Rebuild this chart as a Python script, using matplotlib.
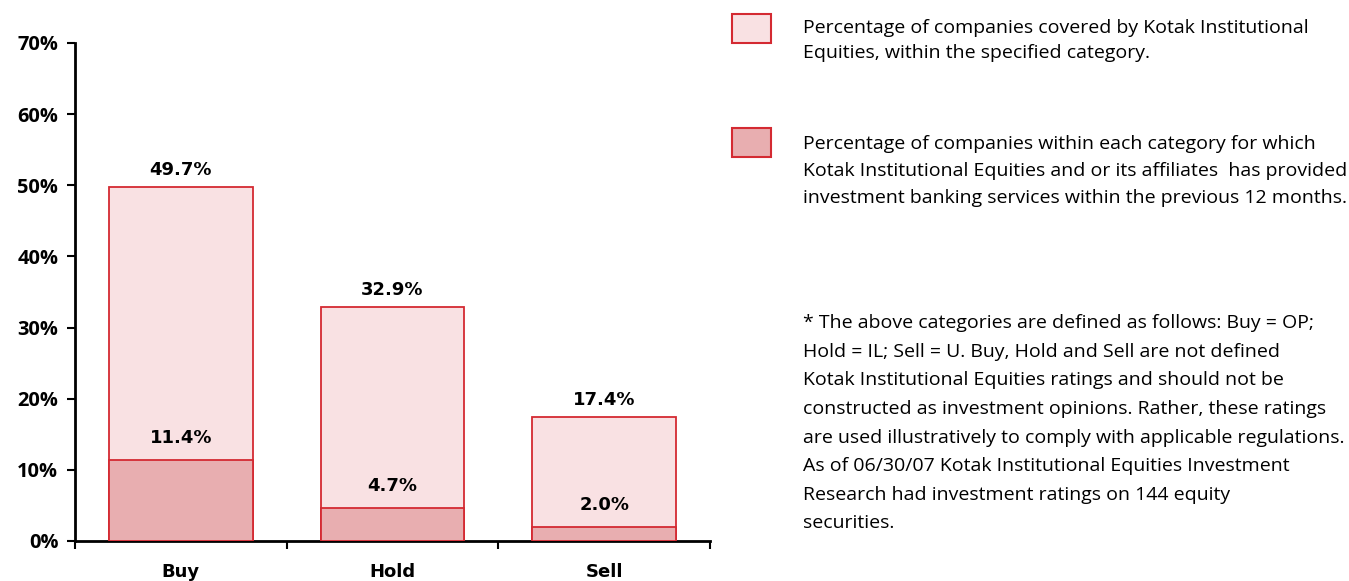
import matplotlib
matplotlib.use("Agg")
import matplotlib.pyplot as plt
from matplotlib.patches import Rectangle

# values
categories = ["Buy", "Hold", "Sell"]
covered_pct = [49.7, 32.9, 17.4]
banking_pct = [11.4, 4.7, 2.0]
y_ticks = [0, 10, 20, 30, 40, 50, 60, 70]

legend_covered = ("Percentage of companies covered by Kotak Institutional\n"
                  "Equities, within the specified category.")
legend_banking = ("Percentage of companies within each category for which\n"
                  "Kotak Institutional Equities and or its affiliates  has provided\n"
                  "investment banking services within the previous 12 months.")
footnote = ("* The above categories are defined as follows: Buy = OP;\n"
            "Hold = IL; Sell = U. Buy, Hold and Sell are not defined\n"
            "Kotak Institutional Equities ratings and should not be\n"
            "constructed as investment opinions. Rather, these ratings\n"
            "are used illustratively to comply with applicable regulations.\n"
            "As of 06/30/07 Kotak Institutional Equities Investment\n"
            "Research had investment ratings on 144 equity\n"
            "securities.")

LIGHT = "#f9e1e3"
DARK = "#e8aeb0"
EDGE = "#d42a32"
TICK_FONT = "Open Sans"
LABEL_FONT = "DejaVu Sans"
TEXT_FONT = "Open Sans"

W, H = 1349, 581
fig = plt.figure(figsize=(W / 100, H / 100), dpi=100)
ax = fig.add_axes([75 / W, 1 - 541 / H, 635 / W, 498 / H])

x = range(len(categories))
ax.bar(x, covered_pct, width=0.68, color=LIGHT, edgecolor=EDGE, linewidth=1.3, zorder=2)
ax.bar(x, banking_pct, width=0.68, color=DARK, edgecolor=EDGE, linewidth=1.3, zorder=3)

for i in x:
    ax.annotate(f"{covered_pct[i]:.1f}%", (i, covered_pct[i]), xytext=(0, 6),
                textcoords="offset points", ha="center", va="bottom",
                fontsize=13, fontweight="bold", family=LABEL_FONT)
    ax.annotate(f"{banking_pct[i]:.1f}%", (i, banking_pct[i]), xytext=(0, 9),
                textcoords="offset points", ha="center", va="bottom",
                fontsize=13, fontweight="bold", family=LABEL_FONT)

ax.set_xlim(-0.5, 2.5)
ax.set_ylim(0, 70)
ax.set_yticks(y_ticks)
ax.set_yticklabels([f"{t}%" for t in y_ticks], fontsize=14.4, fontweight="bold",
                   family=TICK_FONT)
ax.set_xticks([-0.5, 0.5, 1.5, 2.5])
ax.set_xticklabels([])
ax.set_xticks(list(x), minor=True)
ax.set_xticklabels(categories, minor=True, fontsize=13, fontweight="bold",
                   family=LABEL_FONT)
ax.tick_params(axis="x", which="minor", length=0, pad=16)
ax.tick_params(axis="x", which="major", length=6, width=1.5, direction="out")
ax.tick_params(axis="y", length=6, width=1.5, direction="out", pad=6)
for side in ["top", "right"]:
    ax.spines[side].set_visible(False)
for side in ["left", "bottom"]:
    ax.spines[side].set_linewidth(2)

# legend boxes and text on the right
fig.add_artist(Rectangle((732 / W, 1 - 43 / H), 39 / W, 29 / H, transform=fig.transFigure,
                         facecolor=LIGHT, edgecolor=EDGE, linewidth=1.5))
fig.add_artist(Rectangle((732 / W, 1 - 157 / H), 39 / W, 29 / H, transform=fig.transFigure,
                         facecolor=DARK, edgecolor=EDGE, linewidth=1.5))
fig.text(803 / W, 1 - 19 / H, legend_covered, ha="left", va="top", fontsize=14,
         family=TEXT_FONT, linespacing=1.53)
fig.text(803 / W, 1 - 135 / H, legend_banking, ha="left", va="top", fontsize=14,
         family=TEXT_FONT, linespacing=1.63)
fig.text(803 / W, 1 - 314 / H, footnote, ha="left", va="top", fontsize=14,
         family=TEXT_FONT, linespacing=1.76)

fig.savefig("out.png", dpi=100)
